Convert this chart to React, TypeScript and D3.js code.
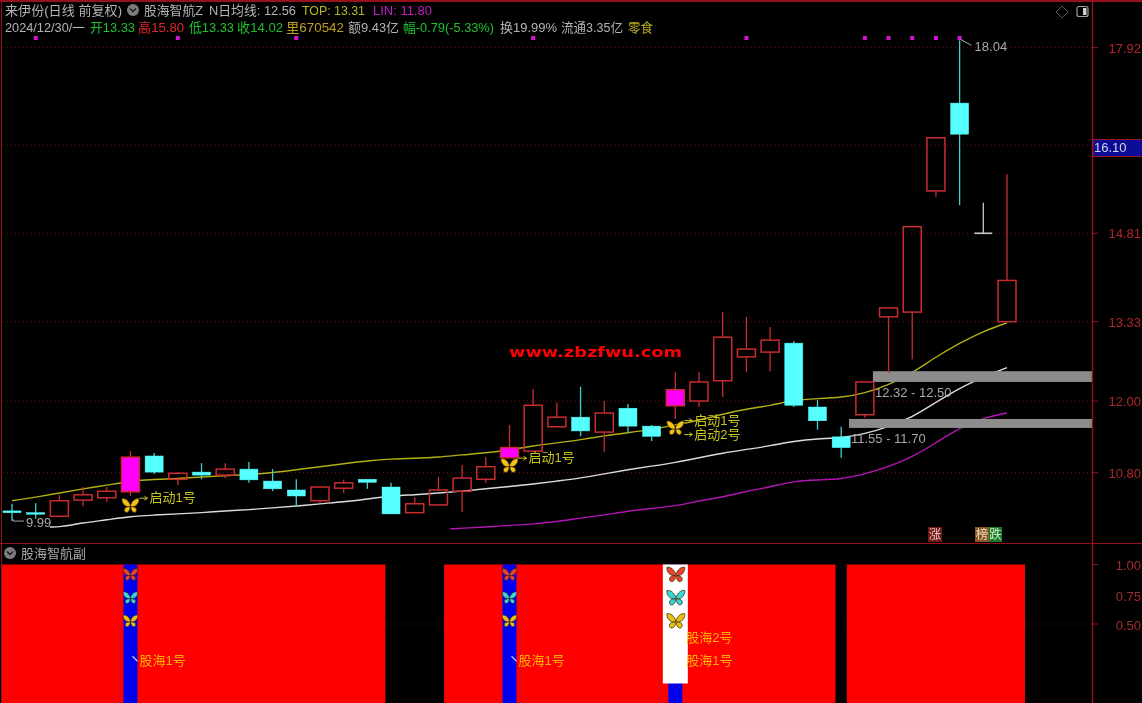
import React from "react";
import * as d3 from "d3";

const opens = [10.16,10.13,10.07,10.34,10.38,10.48,11.08,10.69,10.81,10.76,10.86,10.66,10.51,10.33,10.54,10.69,10.56,10.13,10.26,10.49,10.69,11.05,11.16,11.57,11.73,11.48,11.88,11.58,11.92,12.00,12.34,12.74,12.82,12.97,11.90,11.40,11.77,13.41,13.49,15.52,16.99,14.81,13.33];
const closes = [10.13,10.11,10.33,10.43,10.49,11.06,10.81,10.79,10.76,10.86,10.68,10.53,10.41,10.56,10.63,10.64,10.11,10.28,10.51,10.71,10.90,11.22,11.93,11.73,11.50,11.80,11.58,11.41,12.19,12.32,13.07,12.87,13.02,11.93,11.67,11.22,12.32,13.56,14.92,16.41,16.47,14.81,14.02];
const highs = [10.28,10.29,10.43,10.56,10.56,11.16,11.13,10.81,10.96,10.96,10.98,10.86,10.69,10.56,10.68,10.69,10.63,10.39,10.73,10.93,11.06,11.60,12.20,11.98,12.24,12.00,11.95,11.60,12.49,12.49,13.49,13.41,13.24,13.00,12.02,11.57,12.32,13.56,14.92,16.41,18.04,15.32,15.80];
const lows = [9.99,10.03,10.06,10.24,10.31,10.41,10.78,10.59,10.69,10.71,10.63,10.49,10.24,10.29,10.46,10.53,10.11,10.13,10.26,10.14,10.63,11.05,11.16,11.57,11.41,11.15,11.47,11.33,11.70,11.90,12.07,12.49,12.50,11.90,11.52,11.05,11.72,12.47,12.70,15.42,15.28,14.81,13.33];
const magentaCandles = [5, 21, 28];
const dojiCandle = 41;

const topLine = [10.33,10.39,10.46,10.53,10.59,10.66,10.69,10.70,10.73,10.75,10.77,10.80,10.85,10.90,10.95,11.00,11.03,11.04,11.06,11.10,11.13,11.18,11.25,11.30,11.35,11.42,11.47,11.52,11.60,11.68,11.78,11.87,11.92,12.02,12.04,12.06,12.13,12.27,12.47,12.74,12.97,13.17,13.31];
const avgLineStart = 1.6;
const avgLine = [9.89,9.89,9.96,10.01,10.07,10.09,10.11,10.13,10.16,10.18,10.21,10.24,10.28,10.31,10.36,10.41,10.43,10.46,10.49,10.53,10.57,10.61,10.66,10.71,10.78,10.85,10.91,10.97,11.05,11.13,11.19,11.25,11.33,11.37,11.38,11.45,11.57,11.73,11.98,12.22,12.40,12.56];
const linLineStart = 18.5;
const linLine = [9.86,9.87,9.89,9.92,9.94,9.98,10.04,10.09,10.16,10.20,10.24,10.33,10.39,10.49,10.56,10.66,10.68,10.69,10.78,10.90,11.06,11.30,11.55,11.72,11.80];

const signalDots = [1, 7, 12, 22, 31, 36, 37, 38, 39, 40];
const priceTicks = [17.92, 14.81, 13.33, 12.0, 10.8];
const hiddenGridLevel = 16.29;
const lastLabel = "16.10";
const zones = [
  { low: 12.32, high: 12.5, start: 36.34, label: "12.32 - 12.50" },
  { low: 11.55, high: 11.7, start: 35.33, label: "11.55 - 11.70" },
];
const startSignals = [
  { i: 5, texts: ["启动1号"], v: 10.39 },
  { i: 21, texts: ["启动1号"], v: 11.06 },
  { i: 28, texts: ["启动1号", "启动2号"], v: 11.69 },
];
const subTicks = [1, 0.75, 0.5];
const redRuns = [[0, 15], [19, 34], [36, 42]];
const blueSticks = [5, 21, 28];
const whiteStick = 28;
const subLabels = [
  { i: 5, text: "股海1号", level: 0.195 },
  { i: 21, text: "股海1号", level: 0.195 },
  { i: 28, text: "股海2号", level: 0.39 },
  { i: 28, text: "股海1号", level: 0.195 },
];
const subButterflies = [
  { level: 0.915, color: "#e8452c" },
  { level: 0.72, color: "#35d8d8" },
  { level: 0.525, color: "#e8c015" },
];

const header1 = [
  { x: 5, w: 117, t: "来伊份(日线 前复权)", c: "#b4b4b4" },
  { x: 144, w: 59, t: "股海智航Z", c: "#b4b4b4" },
  { x: 209, w: 87, t: "N日均线: 12.56", c: "#b4b4b4" },
  { x: 302, w: 63, t: "TOP: 13.31", c: "#b8b820" },
  { x: 373, w: 59, t: "LIN: 11.80", c: "#c020c0" },
];
const header2 = [
  { x: 5, w: 80, t: "2024/12/30/一", c: "#b4b4b4" },
  { x: 90, w: 45, t: "开13.33", c: "#20c030" },
  { x: 138, w: 46, t: "高15.80", c: "#e02828" },
  { x: 189, w: 45, t: "低13.33", c: "#20c030" },
  { x: 237, w: 46, t: "收14.02", c: "#20c030" },
  { x: 286, w: 58, t: "里670542", c: "#c0a020" },
  { x: 348, w: 51, t: "额9.43亿", c: "#b4b4b4" },
  { x: 403, w: 91, t: "幅-0.79(-5.33%)", c: "#20c030" },
  { x: 500, w: 57, t: "换19.99%", c: "#b4b4b4" },
  { x: 561, w: 62, t: "流通3.35亿", c: "#b4b4b4" },
  { x: 628, w: 25, t: "零食", c: "#c0b020" },
];

const FONT = '"Liberation Sans","Noto Sans CJK SC",sans-serif';
const FRAME = "#96121a";
const RED = "#c82c30";
const CYAN = "#55ffff";
const AXIS_X = 1092;

const x = d3.scaleLinear().domain([0, 42]).range([12, 1007]);
const y = d3.scaleLinear().domain([10.8, 17.92]).range([472.7, 47.6]);
const sy = d3.scaleLinear().domain([1, 0.5]).range([564.5, 624]);
const subBottom = 703;

const lineGen = d3
  .line<[number, number]>()
  .x((d) => x(d[0]))
  .y((d) => y(d[1]))
  .curve(d3.curveBasis);

function series(values: number[], start: number): [number, number][] {
  const first = Math.floor(start) + 1;
  return values.map((v, k) => [k === 0 ? start : first + k - 1, v]);
}

const WING_U = "M0,0 C1.5,-5 5,-7.5 8.5,-7 C9,-3 6,1.2 0.8,1.2 Z";
const WING_L = "M0.5,1 C4,1 6.5,2 6,5 C5,8 1.5,7 0.5,3 Z";

function Butterfly({ cx, cy, color, scale = 1 }: { cx: number; cy: number; color: string; scale?: number }) {
  return (
    <g transform={`translate(${cx},${cy}) scale(${scale})`} fill={color} stroke="#3a2600" strokeWidth={0.7}>
      <path d={WING_U} />
      <path d={WING_L} />
      <g transform="scale(-1,1)">
        <path d={WING_U} />
        <path d={WING_L} />
      </g>
    </g>
  );
}

function Chevron({ cx, cy }: { cx: number; cy: number }) {
  return (
    <g>
      <circle cx={cx} cy={cy} r={6} fill="#7c7c7c" />
      <path d={`M${cx - 3},${cy - 1.5} L${cx},${cy + 1.5} L${cx + 3},${cy - 1.5}`} fill="none" stroke="#1a1a1a" strokeWidth={1.4} />
    </g>
  );
}

export default function App() {
  const bw = 18;
  return (
    <svg
      width={1142}
      height={703}
      style={{ position: "absolute", left: 0, top: 0, background: "#000", display: "block", filter: "blur(0.5px)" }}
      fontFamily={FONT}
    >
      {/* gridlines */}
      {[...priceTicks, hiddenGridLevel].map((t) => (
        <line key={t} x1={3} x2={AXIS_X} y1={y(t)} y2={y(t)} stroke="#6a1015" strokeDasharray="1 3" />
      ))}
      <line x1={3} x2={AXIS_X} y1={sy(0.5)} y2={sy(0.5)} stroke="#6a1015" strokeDasharray="1 3" />

      {/* moving lines */}
      <path d={lineGen(series(topLine, 0))!} fill="none" stroke="#b4b010" strokeWidth={1.4} />
      <path d={lineGen(series(avgLine, avgLineStart))!} fill="none" stroke="#dcdcdc" strokeWidth={1.4} />
      <path d={lineGen(series(linLine, linLineStart))!} fill="none" stroke="#b414b4" strokeWidth={1.4} />

      {/* zones */}
      {zones.map((z) => (
        <g key={z.label}>
          <rect x={x(z.start)} width={AXIS_X - x(z.start)} y={y(z.high)} height={y(z.low) - y(z.high)} fill="#8c8c8c" />
          <text x={x(z.start) + 2} y={y(z.low) + 15} fontSize={13} fill="#a8a8a8">{z.label}</text>
        </g>
      ))}

      {/* candles */}
      {opens.map((o, i) => {
        const c = closes[i];
        const top = Math.max(o, c);
        const bot = Math.min(o, c);
        const up = c > o;
        const mag = magentaCandles.includes(i);
        const doji = i === dojiCandle;
        const wick = doji ? "#c8c8c8" : up ? RED : "#3cd0d0";
        const cx = x(i);
        return (
          <g key={i}>
            <line x1={cx} x2={cx} y1={y(highs[i])} y2={y(top)} stroke={wick} strokeWidth={1.3} />
            <line x1={cx} x2={cx} y1={y(bot)} y2={y(lows[i])} stroke={wick} strokeWidth={1.3} />
            {doji ? (
              <line x1={cx - bw / 2} x2={cx + bw / 2} y1={y(c)} y2={y(c)} stroke={wick} strokeWidth={1.6} />
            ) : (
              <rect
                x={cx - bw / 2}
                width={bw}
                y={y(top)}
                height={Math.max(y(bot) - y(top), 1.5)}
                fill={mag ? "#ff00ff" : up ? "none" : CYAN}
                stroke={mag || up ? RED : CYAN}
                strokeWidth={up || mag ? 1.5 : 0.5}
              />
            )}
          </g>
        );
      })}

      {/* signal dots */}
      {signalDots.map((i) => (
        <rect key={i} x={x(i) - 2} y={36} width={4} height={4} fill="#d414d4" />
      ))}

      {/* high & low notes */}
      <path d={`M${x(40) + 1},${y(18.04) - 1} L${x(40) + 12},${y(18.04) + 5}`} stroke="#a8a8a8" fill="none" />
      <text x={x(40) + 15} y={y(18.04) + 11} fontSize={13} fill="#a8a8a8">18.04</text>
      <path d={`M${x(0) + 1},${y(9.99) - 2} V${y(9.99)} H${x(0) + 12}`} stroke="#a8a8a8" fill="none" />
      <text x={x(0) + 14} y={y(9.99) + 6} fontSize={13} fill="#a8a8a8">9.99</text>

      {/* start signals */}
      {startSignals.map((s) => (
        <g key={s.i}>
          <Butterfly cx={x(s.i)} cy={y(s.v) + 8.5} color="#f2c21a" />
          {s.texts.map((t, k) => (
            <g key={k}>
              <path
                d={`M${x(s.i) + 9},${y(s.v) + 1 + k * 14} h8 m-3,-2 l3,2 l-3,2`}
                stroke="#c8c420"
                fill="none"
              />
              <text x={x(s.i) + 19} y={y(s.v) + 5 + k * 14} fontSize={13} fill="#c8c420">{t}</text>
            </g>
          ))}
        </g>
      ))}

      {/* watermark */}
      <text x={509} y={357} textLength={173} lengthAdjust="spacingAndGlyphs" fontFamily='"DejaVu Sans"' fontWeight={700} fontSize={14} fill="#ff0000">
        www.zbzfwu.com
      </text>

      {/* rank tags */}
      <rect x={928} y={527} width={14} height={15} fill="#701818" />
      <text x={935} y={539} textAnchor="middle" fontSize={12.5} fill="#e8c0c0">涨</text>
      <rect x={975} y={527} width={14} height={15} fill="#8a5520" />
      <text x={982} y={539} textAnchor="middle" fontSize={12.5} fill="#eadcc0">榜</text>
      <rect x={989} y={527} width={13} height={15} fill="#1a7a28" />
      <text x={995.5} y={539} textAnchor="middle" fontSize={12.5} fill="#d0f0d0">跌</text>

      {/* sub panel */}
      {redRuns.map(([a, b]) => (
        <rect key={a} x={Math.max(x(a) - 18, 2)} width={x(b) + 18 - Math.max(x(a) - 18, 2)} y={sy(1)} height={subBottom - sy(1)} fill="#ff0000" />
      ))}
      {blueSticks.map((i) => (
        <rect key={i} x={x(i) - 7} width={14} y={sy(1)} height={subBottom - sy(1)} fill="#0000f0" />
      ))}
      <rect x={x(whiteStick) - 12.5} width={25} y={sy(1)} height={sy(0) - sy(1)} fill="#ffffff" />
      {blueSticks.map((i) =>
        subButterflies.map((b) => (
          <Butterfly key={`${i}-${b.level}`} cx={x(i) + (i === whiteStick ? 0.5 : 0)} cy={sy(b.level)} color={b.color} scale={i === whiteStick ? 1.05 : 0.85} />
        ))
      )}
      {subLabels.map((l, k) => (
        <g key={k}>
          {l.i !== whiteStick && (
            <path d={`M${x(l.i) + 2},${sy(l.level) - 4} l5,5`} stroke="#b8c8ff" strokeWidth={1.3} />
          )}
          <text x={x(l.i) + (l.i === whiteStick ? 11 : 9)} y={sy(l.level) + 5} fontSize={13} fill="#ffb400">{l.text}</text>
        </g>
      ))}

      {/* frame */}
      <line x1={0} x2={1142} y1={1} y2={1} stroke={FRAME} strokeWidth={2} />
      <line x1={1.5} x2={1.5} y1={0} y2={703} stroke={FRAME} />
      <line x1={0} x2={1142} y1={543.5} y2={543.5} stroke={FRAME} />
      <line x1={AXIS_X + 0.5} x2={AXIS_X + 0.5} y1={0} y2={703} stroke={FRAME} strokeWidth={1.4} />

      {/* price axis */}
      {priceTicks.map((t) => (
        <g key={t}>
          <line x1={AXIS_X} x2={AXIS_X + 6} y1={y(t)} y2={y(t)} stroke={FRAME} />
          <text x={1141} y={y(t) + 5} textAnchor="end" fontSize={13} fill="#b42428">{t.toFixed(2)}</text>
        </g>
      ))}
      <rect x={AXIS_X + 1} y={139.5} width={50} height={17} fill="#0c0c96" stroke="#a01820" />
      <text x={1094} y={152} fontSize={13} fill="#d4d4e8">{lastLabel}</text>

      {/* sub axis */}
      {subTicks.map((t) => (
        <g key={t}>
          {t !== 0.75 && <line x1={AXIS_X} x2={AXIS_X + 6} y1={sy(t)} y2={sy(t)} stroke={FRAME} />}
          <text x={1141} y={sy(t) + 5.5 + (t === 0.75 ? 1.5 : 0)} textAnchor="end" fontSize={13} fill="#a02c30">{t.toFixed(2)}</text>
        </g>
      ))}

      {/* headers */}
      {header1.map((h) => (
        <text key={h.x} x={h.x} y={15} fontSize={13} textLength={h.w} lengthAdjust="spacingAndGlyphs" fill={h.c}>{h.t}</text>
      ))}
      {header2.map((h) => (
        <text key={h.x} x={h.x} y={31.5} fontSize={13} textLength={h.w} lengthAdjust="spacingAndGlyphs" fill={h.c}>{h.t}</text>
      ))}
      <Chevron cx={133} cy={10} />
      <Chevron cx={10} cy={553} />
      <text x={21} y={558} fontSize={13} fill="#a8a8a8">股海智航副</text>

      {/* window icons */}
      <path d="M1062,6 L1068,12 L1062,18 L1056,12 Z" fill="none" stroke="#555" />
      <rect x={1077} y={6.5} width={11} height={10} rx={2} fill="none" stroke="#a0a0a0" strokeWidth={1.2} />
      <rect x={1083} y={8} width={3.5} height={7} fill="#d0d0d0" />
    </svg>
  );
}
